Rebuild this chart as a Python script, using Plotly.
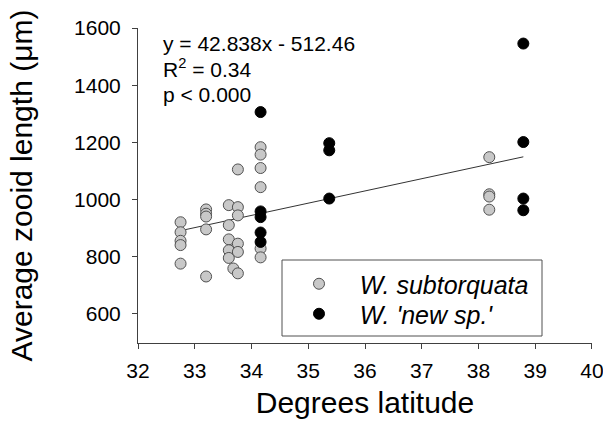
import plotly.graph_objects as go

# Data
gray_lat = [32.75]*5 + [33.2]*5 + [33.6]*5 + [33.68] + [33.76]*6 + [34.16]*6 + [38.19]*4
gray_len = [920, 885, 855, 840, 775,
            965, 950, 940, 895, 730,
            980, 910, 860, 822, 795,
            758,
            1105, 973, 944, 845, 816, 741,
            1183, 1157, 1110, 1043, 828, 797,
            1148, 1018, 1010, 964]
black_lat = [34.16]*5 + [35.37]*3 + [38.79]*4
black_len = [1306, 958, 938, 884, 851,
             1197, 1172, 1003,
             1546, 1201, 1003, 962]

slope = 42.838
intercept = -512.46
x_ticks = [32, 33, 34, 35, 36, 37, 38, 39, 40]
y_ticks = [600, 800, 1000, 1200, 1400, 1600]

FONT = "Arial, 'Liberation Sans', sans-serif"

all_x = gray_lat + black_lat
fit_x = [min(all_x), max(all_x)]
fit_y = [slope * v + intercept for v in fit_x]

fig = go.Figure()
fig.add_trace(go.Scatter(x=fit_x, y=fit_y, mode="lines",
                         line=dict(color="#333333", width=1), showlegend=False, hoverinfo="skip"))
fig.add_trace(go.Scatter(x=gray_lat, y=gray_len, mode="markers", name="   W. subtorquata",
                         legend="legend",
                         marker=dict(size=11, color="#c8c8c8", line=dict(color="#505050", width=1))))
fig.add_trace(go.Scatter(x=black_lat, y=black_len, mode="markers", name="   W. 'new sp.'",
                         legend="legend2",
                         marker=dict(size=11, color="#000000", line=dict(color="#000000", width=1))))

axis_common = dict(showline=True, linecolor="#404040", linewidth=1, ticks="outside",
                   ticklen=5, tickcolor="#404040", showgrid=False, zeroline=False,
                   ticklabeloverflow="allow",
                   tickfont=dict(family=FONT, size=21, color="#000000"), automargin=False)

fig.update_xaxes(range=[32, 40.0001], tickvals=x_ticks, ticklabelstandoff=4,
                 title=dict(text="Degrees latitude", font=dict(family=FONT, size=30, color="#000"), standoff=10),
                 **axis_common)
fig.update_yaxes(range=[497, 1600.5], tickvals=y_ticks, ticklabelstandoff=7,
                 **axis_common)

# y-axis title as a rotated annotation for exact placement
fig.add_annotation(text="Average zooid length (\u03bcm)", xref="paper", yref="paper",
                   x=(21-138)/454, y=0.5, xanchor="center", yanchor="middle", textangle=-90,
                   showarrow=False, font=dict(family=FONT, size=30, color="#000"))

ann_font = dict(family=FONT, size=21, color="#000000")
lines = ["y = 42.838x - 512.46", "R<sup>2</sup> = 0.34", "p < 0.000"]
ys = [1547, 1460, 1369]
for t, yv in zip(lines, ys):
    fig.add_annotation(text=t, xref="paper", x=0.051, yref="y", y=yv, xanchor="left",
                       yanchor="middle", showarrow=False, font=ann_font)

fig.add_shape(type="rect", xref="paper", yref="paper",
              x0=(282-138)/454, x1=(542-138)/454, y0=(343-336)/315, y1=(343-260)/315,
              line=dict(color="#505050", width=1), fillcolor="rgba(0,0,0,0)")

leg_common = dict(xanchor="left", yanchor="top", bgcolor="rgba(0,0,0,0)", borderwidth=0,
                  font=dict(family=FONT, size=25, style="italic", color="#000"))

fig.update_layout(
    width=603, height=430,
    margin=dict(l=138, r=11, t=28, b=87),
    paper_bgcolor="white", plot_bgcolor="white",
    font=dict(family=FONT, color="#000"),
    legend=dict(x=(299-138)/454, y=(343-261)/315, **leg_common),
    legend2=dict(x=(299-138)/454, y=(343-291)/315, **leg_common),
)

# remove the default 8px body margin so the 603x430 figure fills the window exactly
fig.write_html("out.html",
               config={"displayModeBar": False},
               post_script="document.body.style.margin='0px';document.body.style.overflow='hidden';")
